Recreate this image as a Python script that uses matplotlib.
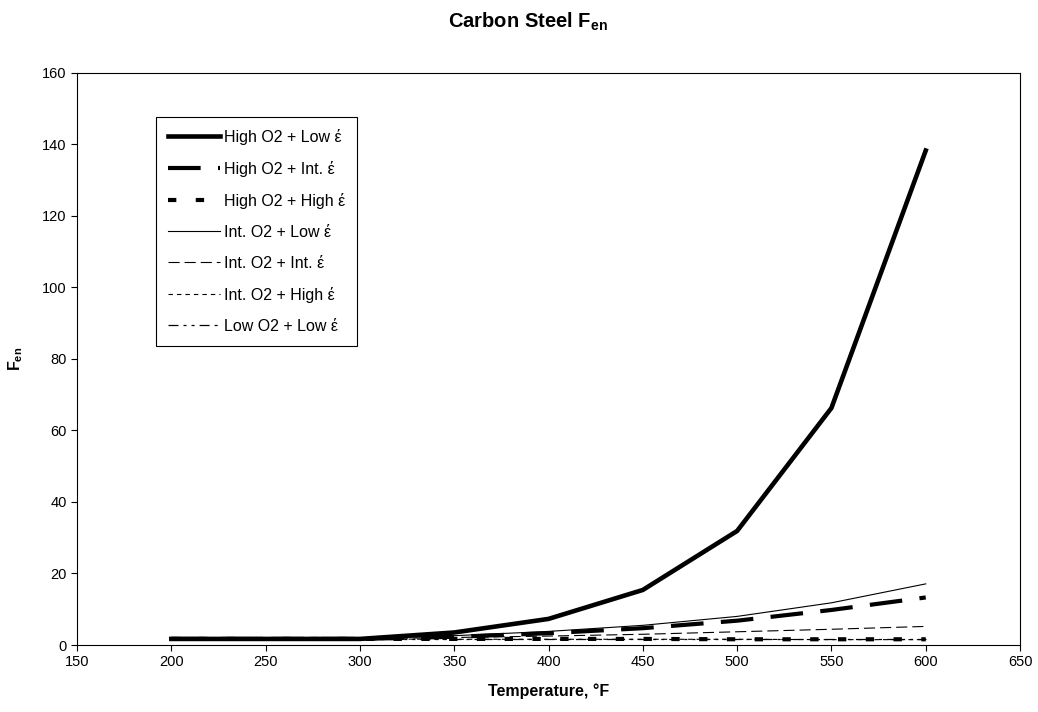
import matplotlib
matplotlib.use("Agg")
import matplotlib.pyplot as plt

plt.rcParams['font.family'] = ['Liberation Sans', 'DejaVu Sans']
plt.rcParams['mathtext.fontset'] = 'custom'
plt.rcParams['mathtext.rm'] = 'Liberation Sans'
plt.rcParams['mathtext.bf'] = 'Liberation Sans:bold'
plt.rcParams['lines.scale_dashes'] = False

# temperatures (deg F)
temps = [200, 250, 300, 350, 400, 450, 500, 550, 600]

# Fen values
high_o2_low = [1.7, 1.7, 1.7, 3.5, 7.3, 15.4, 31.9, 66.3, 138.3]
high_o2_int = [1.7, 1.7, 1.7, 2.3, 3.3, 4.7, 6.8, 9.8, 13.3]
high_o2_high = [1.7, 1.7, 1.7, 1.7, 1.7, 1.7, 1.6, 1.6, 1.6]
int_o2_low = [1.7, 1.7, 1.7, 2.6, 3.8, 5.5, 8.0, 11.8, 17.1]
int_o2_int = [1.7, 1.7, 1.7, 2.1, 2.5, 3.0, 3.7, 4.4, 5.2]
int_o2_high = [1.7, 1.7, 1.7, 1.6, 1.6, 1.6, 1.6, 1.5, 1.5]
low_o2_low = [1.7, 1.7, 1.7, 1.7, 1.7, 1.7, 1.7, 1.7, 1.7]

labels = ['High O2 + Low έ', 'High O2 + Int. έ', 'High O2 + High έ',
          'Int. O2 + Low έ', 'Int. O2 + Int. έ', 'Int. O2 + High έ',
          'Low O2 + Low έ']

fig = plt.figure(figsize=(10.38, 7.12), dpi=100)
ax = fig.add_axes([0.0742, 0.0941, 0.9085, 0.8034])

ax.plot(temps, high_o2_low, color='black', lw=3.3, label=labels[0])
ax.plot(temps, high_o2_int, color='black', lw=3.0, dashes=(23.5, 12.5), label=labels[1])
ax.plot(temps, high_o2_high, color='black', lw=3.0, dashes=(6, 14), label=labels[2])
ax.plot(temps, int_o2_low, color='black', lw=0.8, label=labels[3])
ax.plot(temps, int_o2_int, color='black', lw=0.8, dashes=(8, 3.6), label=labels[4])
ax.plot(temps, int_o2_high, color='black', lw=0.8, dashes=(3.2, 2.9), label=labels[5])
ax.plot(temps, low_o2_low, color='black', lw=0.9,
        dashes=(7.2, 3.6, 2.2, 3.6, 2.2, 3.6), label=labels[6])

ax.set_xlim(150, 650)
ax.set_ylim(0, 160)
ax.set_xticks(range(150, 651, 50))
ax.set_yticks(range(0, 161, 20))
ax.tick_params(direction='out', length=4, width=0.8, labelsize=10.5, colors='black')
for s in ax.spines.values():
    s.set_color('black')
    s.set_linewidth(0.8)

ax.set_xlabel('Temperature, °F', fontsize=11.5, fontweight='bold', labelpad=10)
ax.set_ylabel(r'F$_{\mathbf{en}}$', fontsize=11.5, fontweight='bold', labelpad=12)
fig.suptitle(r'Carbon Steel F$_{\mathbf{en}}$', x=0.509, y=0.985,
             fontsize=14.5, fontweight='bold')

leg = ax.legend(loc='upper left', bbox_to_anchor=(0.0838, 0.923), fontsize=11.5,
                handlelength=3.25, handletextpad=0.25, labelspacing=1.0,
                borderpad=0.75, fancybox=False, framealpha=1, borderaxespad=0)
leg.get_frame().set_edgecolor('black')
leg.get_frame().set_linewidth(0.8)

plt.savefig('out.png', dpi=100)
